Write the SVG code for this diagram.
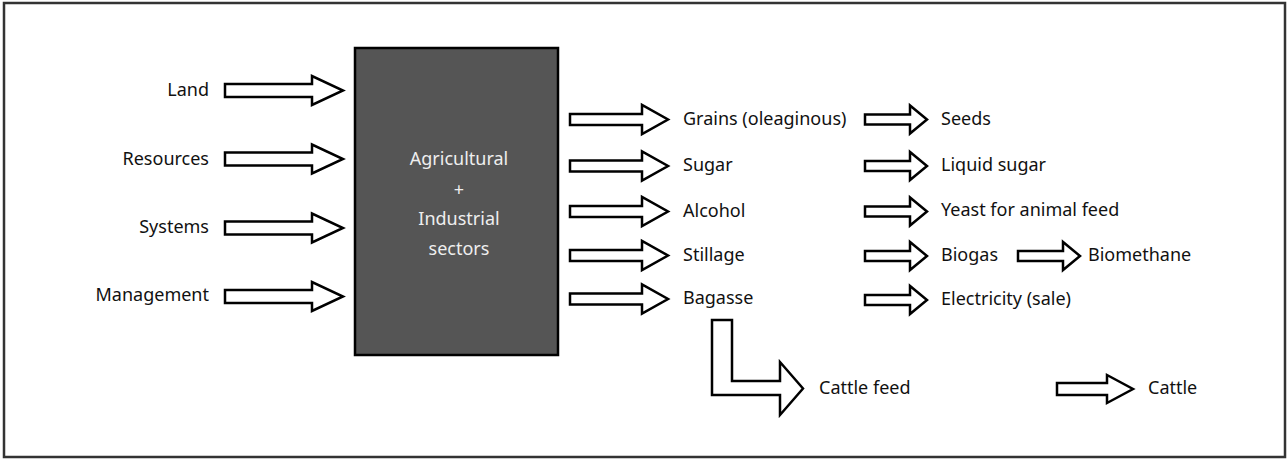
<svg xmlns="http://www.w3.org/2000/svg" width="1287" height="459" viewBox="0 0 1287 459">
<style>
.t{font-family:"Noto Sans","Liberation Sans",Arial,sans-serif;font-size:18px;fill:#111}
.w{font-family:"Noto Sans","Liberation Sans",Arial,sans-serif;font-size:18px;fill:#eee;text-anchor:middle}
.e{text-anchor:end}
.arr{fill:#fff;stroke:#000;stroke-width:2.5;stroke-linejoin:miter}
</style>
<rect x="4" y="3" width="1281" height="454" fill="#fff" stroke="#333" stroke-width="2.5"/>
<g id="land"><text class="t e" x="209" y="96">Land</text></g>
<g id="resources"><text class="t e" x="209" y="164.5">Resources</text></g>
<g id="systems"><text class="t e" x="209" y="233">Systems</text></g>
<g id="management"><text class="t e" x="209" y="301">Management</text></g>
<g id="sectors">
<rect x="355" y="48" width="203" height="307" fill="#555" stroke="#000" stroke-width="2.5"/>
<text class="w" x="459" y="165">Agricultural</text>
<text class="w" x="459" y="196">+</text>
<text class="w" x="459" y="225">Industrial</text>
<text class="w" x="459" y="255">sectors</text>
</g>
<g id="grains"><text class="t" x="683" y="124.5">Grains (oleaginous)</text></g>
<g id="sugar"><text class="t" x="683" y="171">Sugar</text></g>
<g id="alcohol"><text class="t" x="683" y="216.5">Alcohol</text></g>
<g id="stillage"><text class="t" x="683" y="260.5">Stillage</text></g>
<g id="bagasse"><text class="t" x="683" y="304">Bagasse</text></g>
<g id="seeds"><text class="t" x="941" y="124.5">Seeds</text></g>
<g id="liquid-sugar"><text class="t" x="941" y="171">Liquid sugar</text></g>
<g id="yeast"><text class="t" x="941" y="216">Yeast for animal feed</text></g>
<g id="biogas"><text class="t" x="941" y="260.5">Biogas</text></g>
<g id="biomethane"><text class="t" x="1088" y="260.5">Biomethane</text></g>
<g id="electricity"><text class="t" x="941" y="305">Electricity (sale)</text></g>
<g id="cattle-feed"><text class="t" x="819" y="393.5">Cattle feed</text></g>
<g id="cattle"><text class="t" x="1148" y="394">Cattle</text></g>
<g id="connectors">
<path class="arr" d="M225 84 H312 V76 L343 90.5 L312 105 V97 H225 Z"/>
<path class="arr" d="M225 152.5 H312 V144.5 L343 159 L312 173.5 V165.5 H225 Z"/>
<path class="arr" d="M225 221.5 H312 V213.5 L343 228 L312 242.5 V234.5 H225 Z"/>
<path class="arr" d="M225 290 H312 V282 L343 296.5 L312 311 V303 H225 Z"/>
<path class="arr" d="M570 114 H642 V105 L668 119.5 L642 134 V125 H570 Z"/>
<path class="arr" d="M570 160.5 H642 V151.5 L668 166 L642 180.5 V171.5 H570 Z"/>
<path class="arr" d="M570 206 H642 V197 L668 211.5 L642 226 V217 H570 Z"/>
<path class="arr" d="M570 250 H642 V241 L668 255.5 L642 270 V261 H570 Z"/>
<path class="arr" d="M570 293.5 H642 V284.5 L668 299 L642 313.5 V304.5 H570 Z"/>
<path class="arr" d="M865 114.5 H910 V105.5 L927 119.5 L910 133.5 V124.5 H865 Z"/>
<path class="arr" d="M865 161 H910 V152 L927 166 L910 180 V171 H865 Z"/>
<path class="arr" d="M865 206.5 H910 V197.5 L927 211.5 L910 225.5 V216.5 H865 Z"/>
<path class="arr" d="M865 251 H910 V242 L927 256 L910 270 V261 H865 Z"/>
<path class="arr" d="M1018 251 H1063 V242 L1080 256 L1063 270 V261 H1018 Z"/>
<path class="arr" d="M865 295 H910 V286 L927 300 L910 314 V305 H865 Z"/>
<path class="arr" d="M712 320 H732 V381 H780 V362 L803 388.5 L780 415 V395 H712 Z"/>
<path class="arr" d="M1057 383 H1107 V375 L1133 389 L1107 403 V395 H1057 Z"/>
</g>
</svg>
